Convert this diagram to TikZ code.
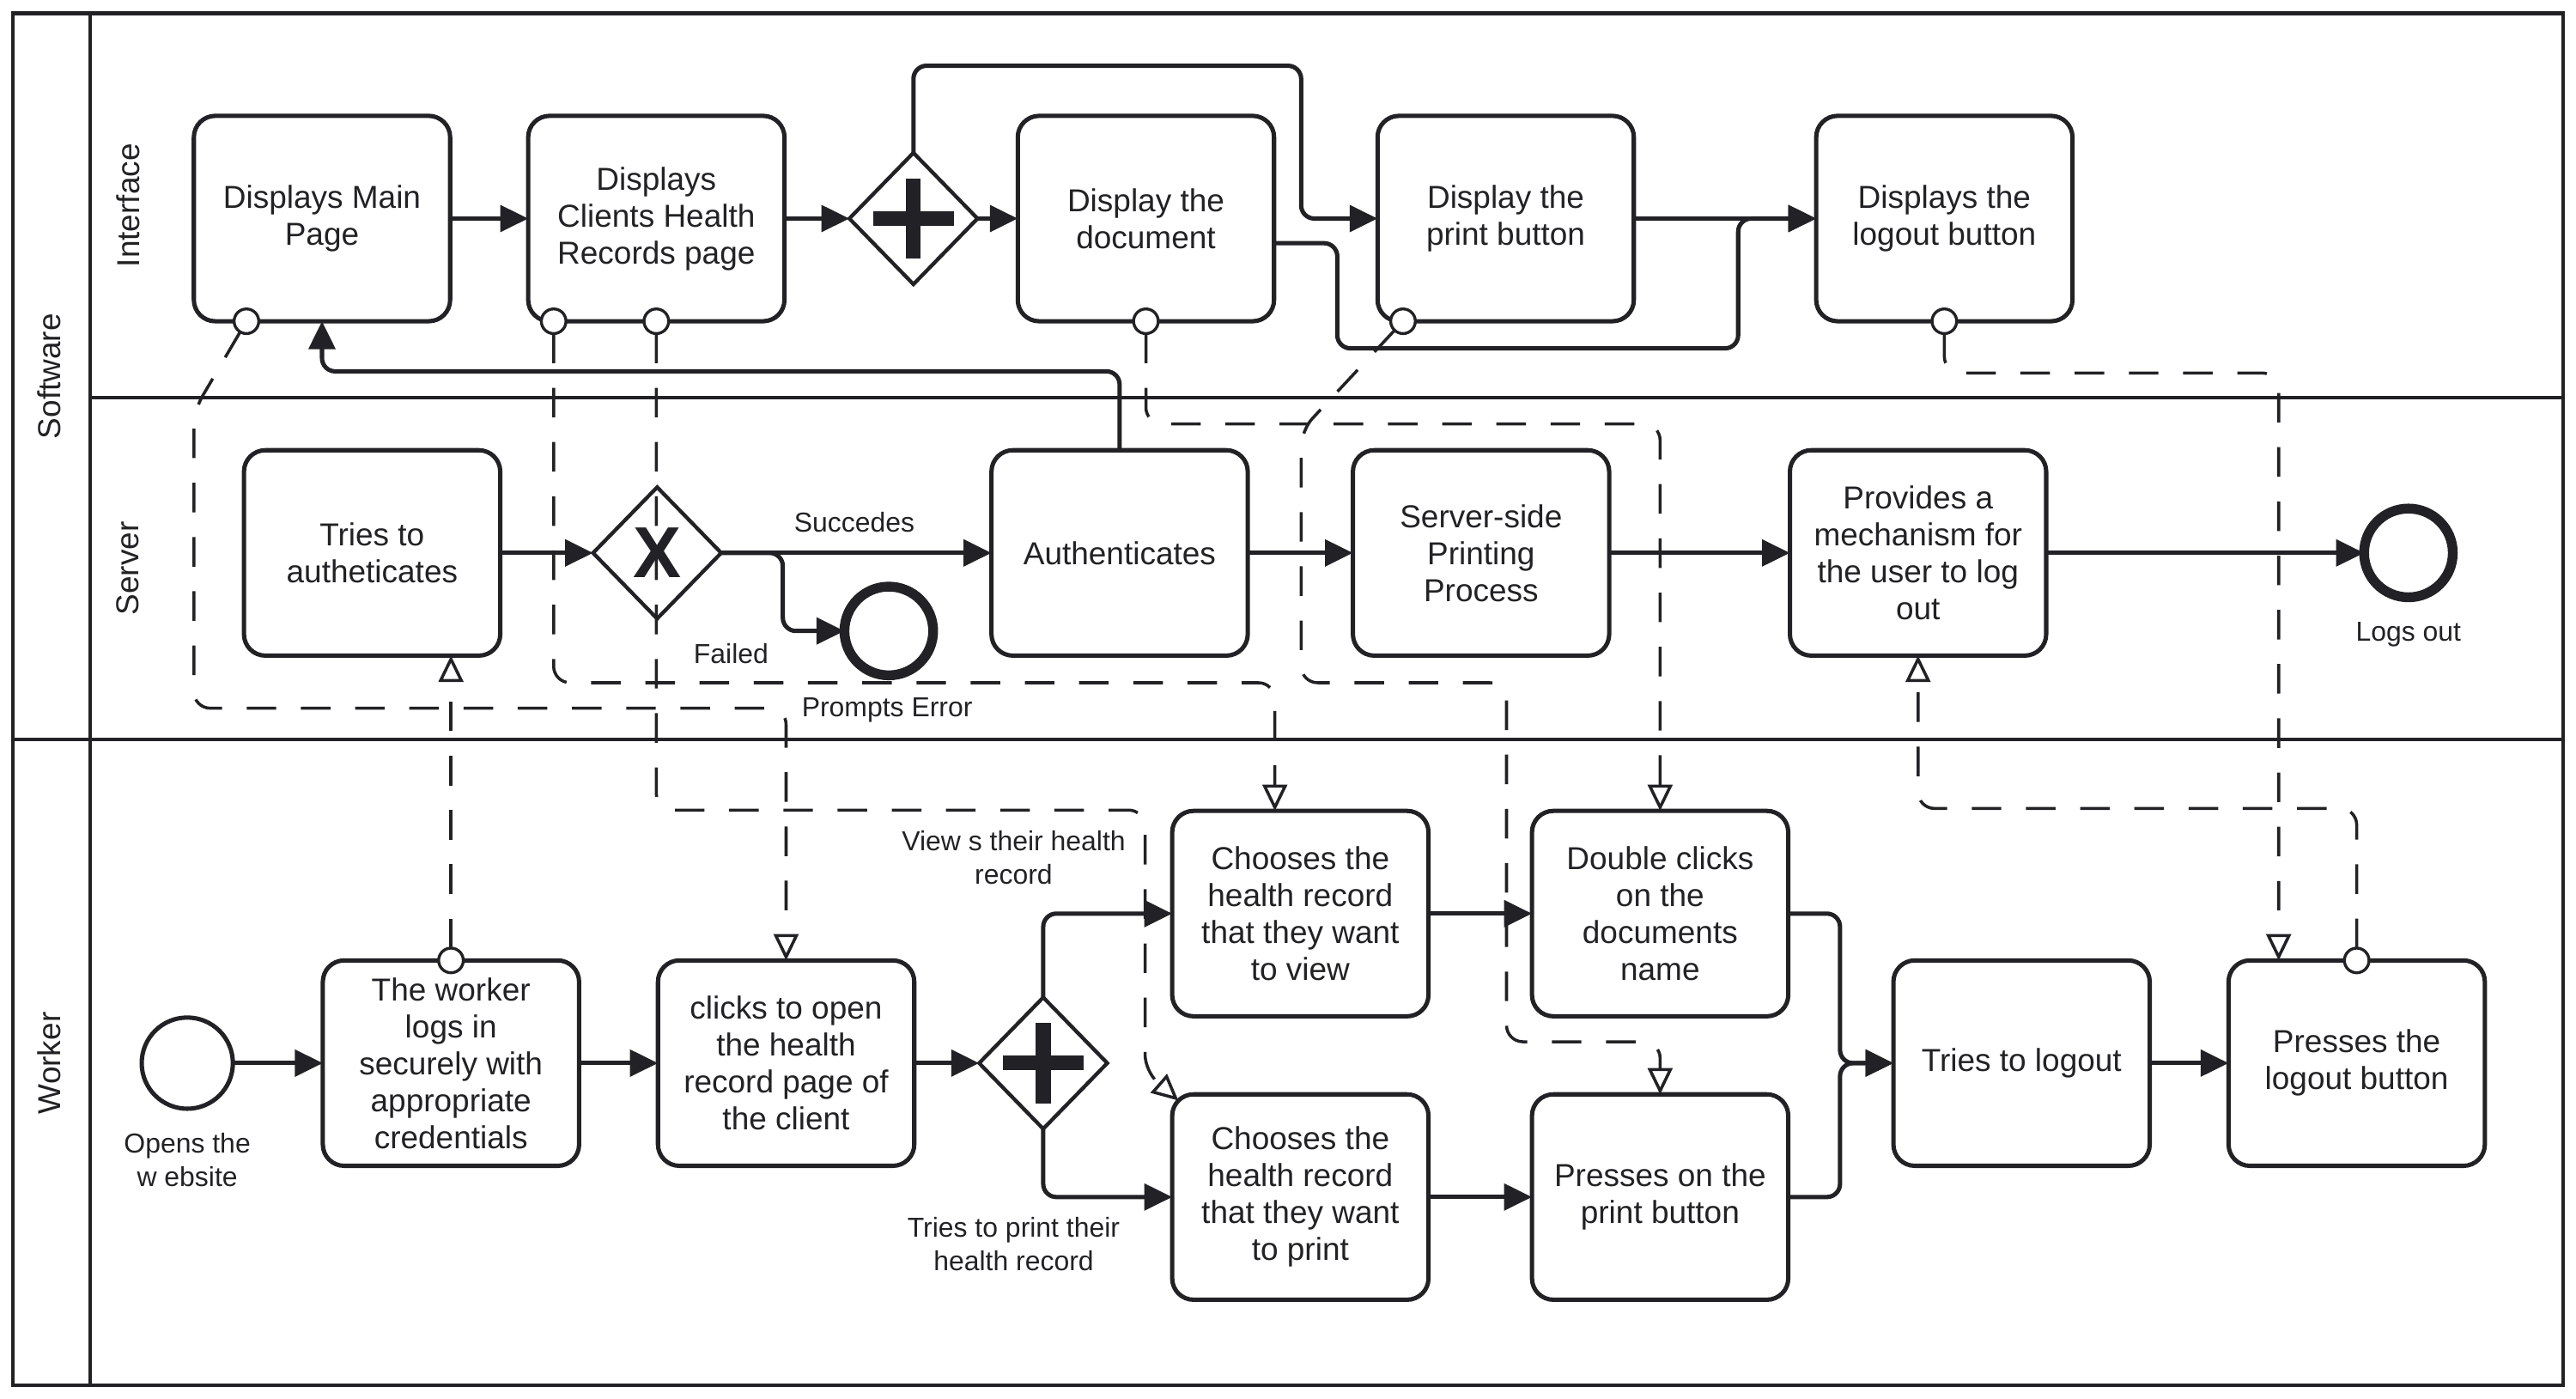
\documentclass[tikz,border=0pt]{standalone}
\usepackage{fontspec}
\setmainfont{Liberation Sans}
\usetikzlibrary{arrows.meta,shapes.geometric,calc}
\definecolor{ink}{HTML}{222226}
\begin{document}
\begin{tikzpicture}[x=0.2mm,y=-0.2mm,
  every node/.style={text=ink},
  pool/.style={draw=ink,line width=1.3pt},
  task/.style={draw=ink,fill=white,line width=1.5pt,rounded corners=2.6mm,minimum width=31.2mm,minimum height=25mm,inner sep=0pt,outer sep=0pt,align=center,font=\fontsize{11}{12.8}\selectfont},
  gate/.style={draw=ink,fill=white,diamond,line width=1.3pt,minimum width=15.6mm,minimum height=16mm,inner sep=0pt,outer sep=0pt},
  endev/.style={draw=ink,fill=white,circle,line width=3.4pt,minimum size=10.8mm,inner sep=0pt,outer sep=0pt},
  startev/.style={draw=ink,fill=white,circle,line width=1.5pt,minimum size=11.1mm,inner sep=0pt,outer sep=0pt},
  lbl/.style={align=center,font=\fontsize{9.5}{11.6}\selectfont},
  lanelbl/.style={rotate=90,font=\fontsize{11}{13}\selectfont},
  seq/.style={draw=ink,line width=1.5pt,rounded corners=1.6mm,-{Triangle[length=3.4mm,width=3.2mm]}},
  msg/.style={draw=ink,line width=1.05pt,dash pattern=on 3.6mm off 3mm,rounded corners=2mm,-{Triangle[open,length=3.2mm,width=3mm,fill=white]}},
  mc/.style={draw=ink,fill=white,circle,line width=1pt,minimum size=3mm,inner sep=0pt,outer sep=0pt},
]
\useasboundingbox (0,0) rectangle (1568,851.4);

% pools and lanes
\draw[pool] (8,8) rectangle (1560,843);
\draw[pool] (55,8) -- (55,843);
\draw[pool] (8,450) -- (1560,450);
\draw[pool] (55,242) -- (1560,242);
\node[lanelbl] (pSw) at (30,229) {Software};
\node[lanelbl] (pWk) at (30,647) {Worker};
\node[lanelbl] (lIf) at (78,125) {Interface};
\node[lanelbl] (lSv) at (78,346) {Server};

% Interface lane
\node[task] (T1) at (196,133) {Displays Main\\Page};
\node[task] (T2) at (399.5,133) {Displays\\Clients Health\\Records page};
\node[gate] (G1) at (556,133) {};
\node[task] (T3) at (697.5,133) {Display the\\document};
\node[task] (T4) at (916.5,133) {Display the\\print button};
\node[task] (T5) at (1183.5,133) {Displays the\\logout button};

% Server lane
\node[task] (S1) at (226.5,336.5) {Tries to\\autheticates};
\node[gate] (G2) at (400,336.5) {};
\node[endev] (E1) at (541,384) {};
\node[task] (S2) at (681.5,336.5) {Authenticates};
\node[task] (S3) at (901.5,336.5) {Server-side\\Printing\\Process};
\node[task] (S4) at (1167.5,336.5) {Provides a\\mechanism for\\the user to log\\out};
\node[endev] (E2) at (1466,336.5) {};

% Worker lane
\node[startev] (ST) at (114,647) {};
\node[task] (W1) at (274.5,647) {The worker\\logs in\\securely with\\appropriate\\credentials};
\node[task] (W2) at (478.5,647) {clicks to open\\the health\\record page of\\the client};
\node[gate] (G3) at (635,647) {};
\node[task] (W3) at (791.5,556) {Chooses the\\health record\\that they want\\to view};
\node[task] (W4) at (791.5,728.5) {Chooses the\\health record\\that they want\\to print};
\node[task] (W5) at (1010.5,556) {Double clicks\\on the\\documents\\name};
\node[task] (W6) at (1010.5,728.5) {Presses on the\\print button};
\node[task] (W7) at (1230.5,647) {Tries to logout};
\node[task] (W8) at (1434.5,647) {Presses the\\logout button};

% gateway markers
\draw[ink,line width=5.1pt] (G1.center) ++(-24.5,0) -- ++(49,0);
\draw[ink,line width=5.1pt] (G1.center) ++(0,-24.5) -- ++(0,49);
\draw[ink,line width=5.1pt] (G3.center) ++(-24.5,0) -- ++(49,0);
\draw[ink,line width=5.1pt] (G3.center) ++(0,-24.5) -- ++(0,49);

% labels
\node[lbl] (lSucc) at (520,318) {Succedes};
\node[lbl] (lFail) at (445,398) {Failed};
\node[lbl] (lErr) at (540,432) {Prompts Error};
\node[lbl] (lLog) at (1466,386) {Logs out};
\node[lbl] (lOpen) at (114,706) {Opens the\\w ebsite};
\node[lbl] (lView) at (617,522) {View s their health\\record};
\node[lbl] (lPrint) at (617,757) {Tries to print their\\health record};

% sequence flows
\draw[seq] (T1) -- (T2);
\draw[seq] (T2) -- (G1);
\draw[seq] (G1) -- (T3);
\draw[seq] (G1.north) |- (792,40) -- (792,133) -- (T4.west);
\draw[seq] ($(T3.east)+(0,15)$) -- (814,148) -- (814,212) -- (1058,212) -- (1058,133) -- (T5.west);
\draw[seq] (T4) -- (T5);
\draw[seq] (S2.north) -- (681.5,226) -- (196,226) -- (T1.south);
\draw[seq] (S1) -- (G2);
\draw[seq] (G2) -- (S2);
\draw[seq] (G2.east) -- (476.5,336.5) -- (476.5,384) -- (E1.west);
\draw[seq] (S2) -- (S3);
\draw[seq] (S3) -- (S4);
\draw[seq] (S4) -- (E2);
\draw[seq] (ST) -- (W1);
\draw[seq] (W1) -- (W2);
\draw[seq] (W2) -- (G3);
\draw[seq] (G3.north) |- (W3.west);
\draw[seq] (G3.south) |- (W4.west);
\draw[seq] (W3) -- (W5);
\draw[seq] (W4) -- (W6);
\draw[seq] (W5.east) -- (1120,556) -- (1120,647) -- (W7.west);
\draw[seq] (W6.east) -- (1120,728.5) -- (1120,647) -- (W7.west);
\draw[seq] (W7) -- (W8);

% message flow start circles
\node[mc] (c1) at ($(T1.south)+(-46,0)$) {};
\node[mc] (c2) at ($(T2.south)+(-62.5,0)$) {};
\node[mc] (c3) at (T2.south) {};
\node[mc] (c4) at (T3.south) {};
\node[mc] (c5) at ($(T4.south)+(-62.5,0)$) {};
\node[mc] (c6) at (T5.south) {};
\node[mc] (c7) at (W1.north) {};
\node[mc] (c8) at (W8.north) {};
\coordinate (w4c) at ($(W4.north west)+(3.8,3.8)$);

% message flows
\draw[msg] (c1) -- (118,250) -- (118,431) -- (478.5,431) -- (W2.north);
\draw[msg] (c7) -- ($(S1.south)+(48,0)$);
\draw[msg] (c2) -- (337,415.5) -- (776,415.5) -- ($(W3.north)+(-15.5,0)$);
\draw[msg] (c3) -- (399.5,493) -- (697,493) -- (697,652) -- (w4c);
\draw[msg] (c4) -- (697.5,258) -- (1010.5,258) -- (W5.north);
\draw[msg] (c5) -- (792,262) -- (792,415.5) -- (917,415.5) -- (917,634) -- (1010.5,634) -- (W6.north);
\draw[msg] (c6) -- (1183.5,227) -- (1387,227) -- ($(W8.north)+(-47.5,0)$);
\draw[msg] (c8) -- (1434.5,492) -- (1167.5,492) -- (S4.south);

% exclusive gateway marker
\node[font=\fontsize{25}{25}\selectfont\bfseries,inner sep=0pt] (G2x) at (G2.center) {X};
\end{tikzpicture}
\end{document}
